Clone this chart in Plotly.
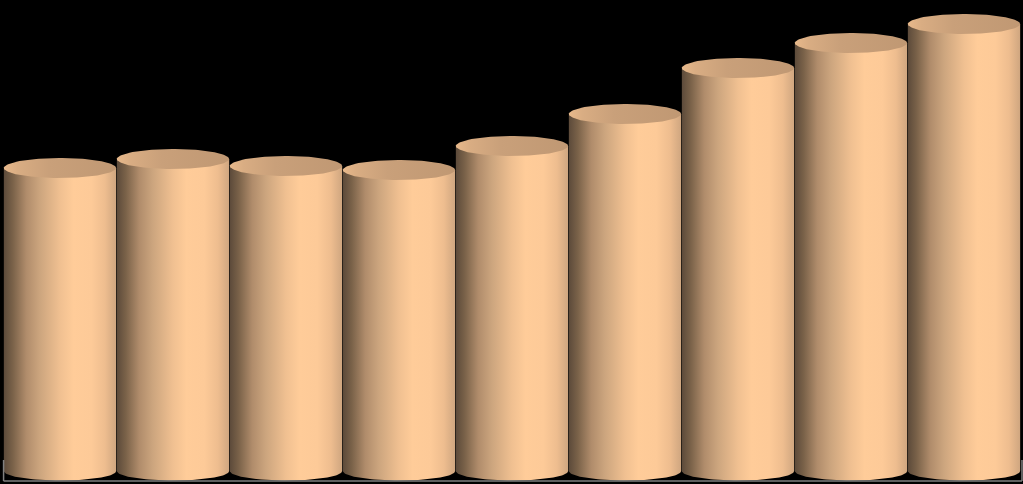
import numpy as np
import plotly.graph_objects as go

# Heights of the cylinders (no axis labels in the original)
categories = [1, 2, 3, 4, 5, 6, 7, 8, 9]
values = [303, 312, 305, 301, 325, 357, 403, 428, 447]

# Shading across one cylinder, left to right
side_colors = [
    [0.0, "#5c4a3a"],
    [0.08, "#7a6249"],
    [0.2, "#b08c6b"],
    [0.32, "#cca57e"],
    [0.5, "#f0c091"],
    [0.62, "#ffcc99"],
    [0.78, "#fdca98"],
    [0.9, "#eebd8f"],
    [1.0, "#cfa680"],
]
top_colors = [
    [0.0, "#e8b98b"],
    [0.12, "#d9ad83"],
    [0.4, "#c9a07a"],
    [1.0, "#c09873"],
]

half_width = 0.497
ry = 9.5
ry_top = 10
t = np.linspace(0, np.pi, 60)
tt = np.linspace(0, 2 * np.pi, 120)

fig = go.Figure()

for cat, val in zip(categories, values):
    # Body: straight sides plus the rounded bottom edge
    body_x = np.concatenate([cat + half_width * np.cos(t), [cat - half_width, cat + half_width]])
    body_y = np.concatenate([-ry * np.sin(t), [val, val]])
    fig.add_trace(go.Scatter(
        x=body_x, y=body_y, mode="lines", line=dict(width=0), fill="toself",
        fillgradient=dict(type="horizontal", colorscale=side_colors),
        hoverinfo="skip", showlegend=False,
    ))

    # Top face
    fig.add_trace(go.Scatter(
        x=cat + half_width * np.cos(tt), y=val + ry_top * np.sin(tt),
        mode="lines", line=dict(width=0), fill="toself",
        fillgradient=dict(type="horizontal", colorscale=top_colors),
        hoverinfo="skip", showlegend=False,
    ))

fig.update_layout(
    width=1023,
    height=484,
    margin=dict(l=0, r=0, t=0, b=0),
    paper_bgcolor="black",
    plot_bgcolor="black",
    xaxis=dict(range=[1 - 60 / 113, 1 + 963 / 113], visible=False, fixedrange=True),
    yaxis=dict(range=[-13, 471], visible=False, fixedrange=True),
)

# Gray axis line along the bottom with a tick at each end
axis_line = dict(color="#808080", width=1.5)
fig.add_shape(type="line", xref="paper", yref="y", x0=0.0035, x1=0.999, y0=-10, y1=-10, line=axis_line)
fig.add_shape(type="line", xref="paper", yref="y", x0=0.0035, x1=0.0035, y0=-10, y1=11, line=axis_line)
fig.add_shape(type="line", xref="paper", yref="y", x0=0.999, x1=0.999, y0=-10, y1=11, line=axis_line)

fig.write_html("out.html", config=dict(displayModeBar=False),
               post_script="document.body.style.margin='0';document.body.style.background='black';")
